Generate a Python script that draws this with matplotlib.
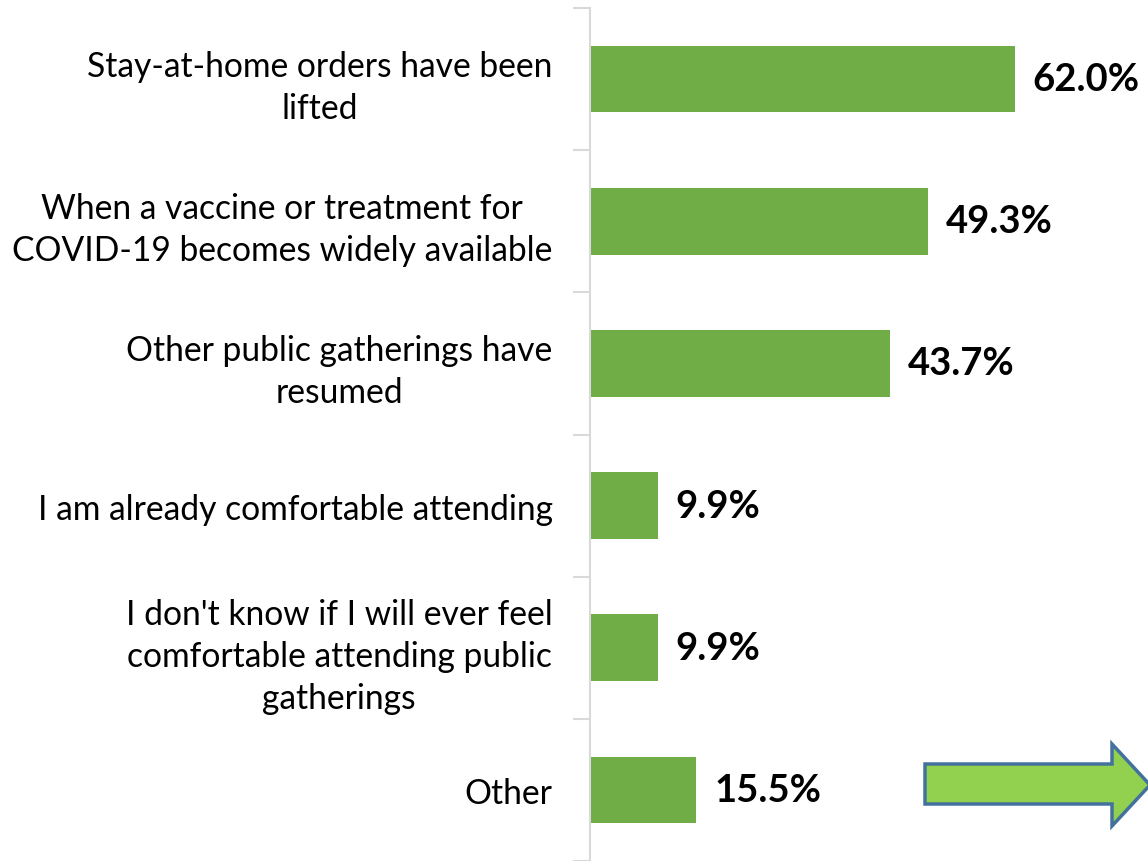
import matplotlib.pyplot as plt
from matplotlib.patches import Polygon

categories = [
    "Stay-at-home orders have been\nlifted",
    "When a vaccine or treatment for\nCOVID-19 becomes widely available",
    "Other public gatherings have\nresumed",
    "I am already comfortable attending",
    "I don't know if I will ever feel\ncomfortable attending public\ngatherings",
    "Other",
]
values = [62.0, 49.3, 43.7, 9.9, 9.9, 15.5]

plt.rcParams['font.family'] = ['Lato', 'DejaVu Sans']

fig = plt.figure(figsize=(11.48, 8.62), dpi=100)
ax = fig.add_axes([590 / 1148, 0.0, 558 / 1148, 853 / 862])

pos = list(range(len(categories)))
ax.barh(pos, values, height=0.47, color='#70AD47')
ax.set_ylim(len(categories) - 0.5, -0.5)
ax.set_xlim(0, 81.4)

for y, v in zip(pos, values):
    ax.text(v + 2.6, y, f"{v:.1f}%", va='center', ha='left',
            fontsize=27.5, fontweight='bold', color='black')

ax.set_yticks([p + 0.5 for p in pos] + [-0.5])
ax.set_yticklabels([])
ax.set_yticks(pos, minor=True)
ax.set_yticklabels(categories, minor=True, fontsize=24.2,
                   multialignment='center', linespacing=1.38)
ax.tick_params(axis='y', which='minor', length=0, pad=27)
ax.tick_params(axis='y', which='major', length=12, color='#D9D9D9', width=1.5)
ax.set_xticks([])

for s in ['top', 'right', 'bottom']:
    ax.spines[s].set_visible(False)
ax.spines['left'].set_color('#D9D9D9')
ax.spines['left'].set_linewidth(1.5)

# decorative arrow, bottom right
W, H = 1148, 862
arrow_px = [(925, 765), (1112, 765), (1112, 745), (1150, 786),
            (1112, 827), (1112, 805), (925, 805)]
arrow = Polygon([(x / W, 1 - y / H) for x, y in arrow_px], closed=True,
                transform=fig.transFigure, facecolor='#92D050',
                edgecolor='#41719C', linewidth=2.5, clip_on=False)
fig.patches.append(arrow)

fig.savefig('out.png', dpi=100)
